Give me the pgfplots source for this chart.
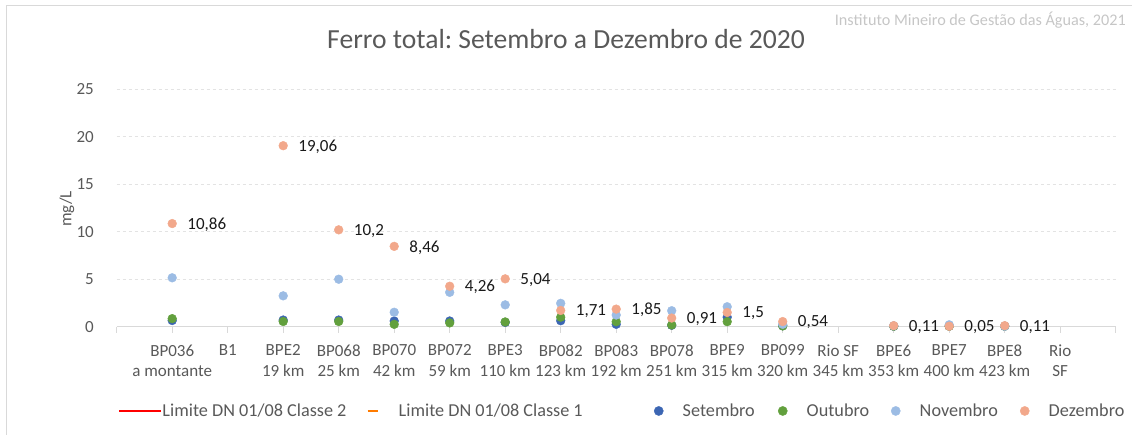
\documentclass[border=0pt]{standalone}
\usepackage{fontspec}
\setmainfont{Carlito}
\usepackage{pgfplots}
\pgfplotsset{compat=1.18}
\definecolor{setc}{HTML}{3C66B3}
\definecolor{outc}{HTML}{62A03D}
\definecolor{novc}{HTML}{9CBCE4}
\definecolor{dezc}{HTML}{F2A88B}
\definecolor{txtg}{HTML}{595959}
\definecolor{axg}{HTML}{D9D9D9}
\definecolor{grd}{HTML}{E3E3E3}
\newcommand{\fs}{\fontsize{17}{20.4}\selectfont}
\newcommand{\fl}{\fontsize{18.2}{21}\selectfont}
\frenchspacing
\begin{document}
\begin{tikzpicture}
\path[use as bounding box] (0pt,0pt) rectangle (1132pt,435pt);
\draw[axg, line width=0.8pt] (6pt,0pt) -- (6pt,430pt) -- (1132pt,430pt);
\node[txtg, font=\fontsize{27.6}{32}\selectfont] at (566pt,396pt) {Ferro total: Setembro a Dezembro de 2020};
\node[anchor=east, text=gray!45, font=\fontsize{16.2}{19}\selectfont, inner sep=0pt] at (1126pt,415pt) {Instituto Mineiro de Gestão das Águas, 2021};
\node[txtg, rotate=90, font=\fs] at (67pt,226pt) {mg/L};
\begin{axis}[
  at={(116.7pt,108.3pt)}, anchor=south west,
  scale only axis, width=999pt, height=237.4pt,
  xmin=0, xmax=18, ymin=0, ymax=25,
  clip=false,
  axis x line*=bottom, axis y line*=left,
  y axis line style={draw=none},
  x axis line style={draw=axg, line width=1pt, -},
  xtick={0,...,18},
  xticklabels={,{BP036\\a montante},B1,{BPE2\\19 km},{BP068\\25 km},{BP070\\42 km},{BP072\\59 km},{BPE3\\110 km},{BP082\\123 km},{BP083\\192 km},{BP078\\251 km},{BPE9\\315 km},{BP099\\320 km},{Rio SF\\345 km},{BPE6\\353 km},{BPE7\\400 km},{BPE8\\423 km},{Rio\\SF},},
  xtick style={draw=axg, line width=1pt},
  tick align=outside,
  major tick length=6pt,
  xticklabel style={align=center, font=\fs, text=txtg, inner sep=0pt, yshift=-12pt},
  ytick={0,5,...,25},
  ytick style={draw=none},
  yticklabel style={font=\fs, text=txtg, inner sep=0pt, xshift=-16.7pt},
  /pgf/number format/assume math mode=true,
  ymajorgrids, grid style={dashed, grd, line width=0.8pt},
  legend cell align=left,
  legend columns=6,
  legend style={draw=none, fill=none, inner sep=0pt, outer sep=0pt, column sep=0pt,
    nodes={inner sep=0pt, font=\fl, text=txtg},
    at={(0.0013,-0.355)}, anchor=west},
  every axis plot/.append style={only marks, mark=*, mark size=4.4pt},
]
\addlegendimage{legend image code/.code={\path[draw=none,fill=none] (0pt,-5pt) rectangle (42pt,5pt); \draw[red, line width=2.5pt, solid] (0pt,0pt) -- (42pt,0pt);}}
\addlegendentry{\makebox[204pt][l]{Limite DN 01/08 Classe 2}}
\addlegendimage{legend image code/.code={\path[draw=none,fill=none] (0pt,-5pt) rectangle (29pt,5pt); \draw[orange!85!red!90!yellow, line width=2.5pt, solid] (-2pt,0pt) -- (8pt,0pt);}}
\addlegendentry{\makebox[250pt][l]{Limite DN 01/08 Classe 1}}

\addplot[color=setc, mark options={solid, fill=setc, draw=setc},
  legend image code/.code={\path[draw=none,fill=none] (0pt,-5pt) rectangle (34pt,5pt); \fill[setc] (10pt,0pt) circle (4.6pt);}]
  table {
x y
1 0.65
3 0.7
4 0.7
5 0.6
6 0.6
7 0.45
8 0.63
9 0.25
10 0.15
11 1.0
12 0.1
14 0.05
15 0.05
16 0.05
};
\addlegendentry{\makebox[90pt][l]{Setembro}}

\addplot[color=outc, mark options={solid, fill=outc, draw=outc},
  legend image code/.code={\path[draw=none,fill=none] (0pt,-5pt) rectangle (34pt,5pt); \fill[outc] (10pt,0pt) circle (4.6pt);}]
  table {
x y
1 0.85
3 0.55
4 0.55
5 0.25
6 0.4
7 0.5
8 1.0
9 0.53
10 0.18
11 0.53
12 0.08
14 0.05
15 0.05
16 0.05
};
\addlegendentry{\makebox[79pt][l]{Outubro}}

\addplot[color=novc, mark options={solid, fill=novc, draw=novc},
  legend image code/.code={\path[draw=none,fill=none] (0pt,-5pt) rectangle (34pt,5pt); \fill[novc] (10pt,0pt) circle (4.6pt);}]
  table {
x y
1 5.15
3 3.25
4 5.0
5 1.52
6 3.62
7 2.3
8 2.46
9 1.23
10 1.68
11 2.1
12 0.25
14 0.1
15 0.2
16 0.05
};
\addlegendentry{\makebox[95pt][l]{Novembro}}

\addplot[color=dezc, mark options={solid, fill=dezc, draw=dezc},
  legend image code/.code={\path[draw=none,fill=none] (0pt,-5pt) rectangle (34pt,5pt); \fill[dezc] (10pt,0pt) circle (4.6pt);},
  point meta=explicit symbolic,
  nodes near coords,
  nodes near coords style={anchor=west, inner sep=0pt, xshift=15pt, yshift=-1pt, font=\fs, text=black!90}]
  table[meta=lab] {
x y lab
1 10.86 10,86
3 19.06 19,06
4 10.2 10,2
5 8.46 8,46
6 4.26 4,26
7 5.04 5,04
8 1.71 1,71
9 1.85 1,85
10 0.91 0,91
11 1.5 1,5
12 0.54 0,54
14 0.11 0,11
15 0.05 0,05
16 0.11 0,11
};
\addlegendentry{\makebox[80pt][l]{Dezembro}}
\end{axis}
\end{tikzpicture}
\end{document}
